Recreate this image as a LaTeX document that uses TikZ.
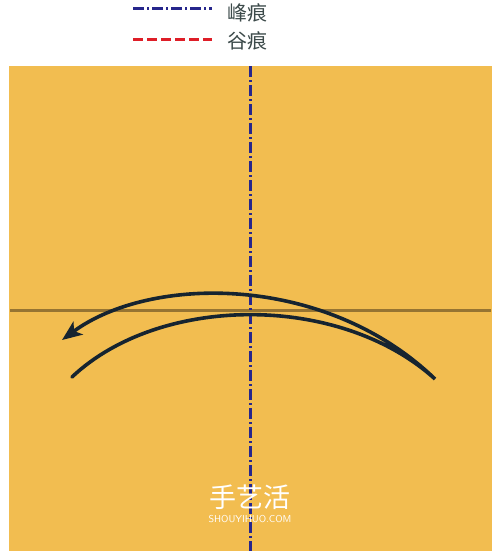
\documentclass[tikz,border=0pt]{standalone}
\usepackage{fontspec}
\newfontfamily\cjk{Noto Sans CJK SC}
\usetikzlibrary{arrows.meta, positioning}

\definecolor{paperfill}{RGB}{242,189,80}
\definecolor{creasebrown}{RGB}{150,116,50}
\definecolor{mountainblue}{RGB}{38,38,140}
\definecolor{valleyred}{RGB}{222,30,40}
\definecolor{arrowink}{RGB}{22,36,48}
\definecolor{legendtext}{RGB}{60,74,74}

\tikzset{
	mountain/.style={draw=mountainblue, line width=3pt, dash pattern=on 11pt off 3pt on 2pt off 3pt},
	valley/.style={draw=valleyred, line width=3pt, dash pattern=on 10pt off 4pt},
	legend/.style={font=\cjk\fontsize{20}{20}\selectfont, text=legendtext, anchor=west, inner sep=0pt},
	foldarrow/.style={draw=arrowink, line width=3.6pt, line cap=round, -{Stealth[length=20pt,width=16pt,inset=5pt]}}
}

\begin{document}
\begin{tikzpicture}[x=1pt, y=-1pt]
		\useasboundingbox (0,0) rectangle (500,558);
		% paper and its crease
		\fill[paperfill] (9,66) rectangle (492,551);
		\coordinate (creaseL) at (10,310);
		\coordinate (creaseR) at (491,310);
		\draw[creasebrown, line width=3pt] (creaseL) -- (creaseR);
		\coordinate (midtop) at (250,66);
		\coordinate (midbot) at (250,551);
		\draw[mountain] (midtop) -- (midbot);
		% legend
		\node[legend] (mtext) at (227,13) {峰痕};
		\node[legend] (vtext) at (227,41) {谷痕};
		\coordinate (mstart) at (133,8);
		\coordinate (vstart) at (133,39);
		\draw[mountain] (mstart) -- (mstart -| 212,0);
		\draw[valley] (vstart) -- (vstart -| 212,0);
		% fold arrow
		\coordinate (arcstart) at (72,377);
		\coordinate (arcturn) at (435,379);
		\coordinate (arctip) at (62,340);
		\draw[foldarrow] (arcstart) .. controls (160,294) and (340,293) .. (arcturn)
			.. controls (325,273) and (150,275) .. (arctip);
		% watermark
		\node[text=white, font=\cjk\fontsize{27}{27}\selectfont, inner sep=0pt] (wmark) at (250,497) {手艺活};
		\node[text=white, font=\sffamily\fontsize{10}{10}\selectfont, inner sep=0pt, below=6pt of wmark] (wsite) {SHOUYIHUO.COM};
\end{tikzpicture}
\end{document}
